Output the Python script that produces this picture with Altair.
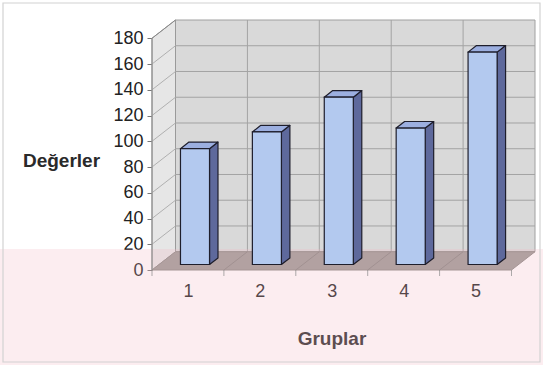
import altair as alt
import pandas as pd

categories = [1, 2, 3, 4, 5]
values = [90, 103, 130, 106, 165]
y_ticks = [0, 20, 40, 60, 80, 100, 120, 140, 160, 180]
x_title = "Gruplar"
y_title = "Değerler"

FONT = "Liberation Sans"
YMAX = y_ticks[-1]
DX, DY = 0.327, 14.2          # depth of the 3D box (category units, value units)
HW, F0, F1 = 0.202, 0.30, 0.66  # bar half width, bar front/back depth fractions
X0, X1 = categories[0] - 0.5, categories[-1] + 0.5
bounds = [X0 + k for k in range(len(categories) + 1)]

xscale = alt.Scale(domain=[X0, X1 + DX], nice=False, zero=False)
yscale = alt.Scale(domain=[0, YMAX + DY], nice=False, zero=False)
xaxis = alt.Axis(values=categories, ticks=False, domain=False, grid=False,
                 labelFontSize=18, labelFont=FONT, labelColor="#222222", labelPadding=12,
                 title=x_title, titleFont=FONT, titleFontSize=19, titleFontWeight="bold",
                 titleColor="#2a2a2a", titleX=179.5, titleY=68, titleBaseline="middle",
                 titleAlign="center", format="d")
yaxis = alt.Axis(values=y_ticks, ticks=True, tickSize=5, tickColor="#777777", domain=False,
                 grid=False, labelFontSize=18, labelFont=FONT, labelColor="#222222",
                 labelPadding=4, title=y_title, titleFont=FONT, titleFontSize=19,
                 titleFontWeight="bold", titleColor="#2a2a2a", titleAngle=0,
                 titleX=-91, titleY=140, titleAlign="center", titleBaseline="middle")


def X(f):
    return alt.X(f, type="quantitative", scale=xscale, axis=xaxis)


def Y(f):
    return alt.Y(f, type="quantitative", scale=yscale, axis=yaxis)


# back wall
back = pd.DataFrame([{"x": X0 + DX, "x2": X1 + DX, "y": DY, "y2": YMAX + DY}])
back_l = alt.Chart(back).mark_rect(fill="#d9d9d9", stroke="#a0a0a0", strokeWidth=1).encode(
    x=X("x"), x2="x2", y=Y("y"), y2="y2")

grid_rows = []
for t in y_ticks[1:-1]:
    grid_rows.append({"x": X0 + DX, "x2": X1 + DX, "y": t + DY, "y2": t + DY})
for b in bounds[1:-1]:
    grid_rows.append({"x": b + DX, "x2": b + DX, "y": DY, "y2": YMAX + DY})
back_grid = alt.Chart(pd.DataFrame(grid_rows)).mark_rule(color="#a3a3a3", strokeWidth=1).encode(
    x=X("x"), x2="x2", y=Y("y"), y2="y2")

# left side wall
side = pd.DataFrame([{"x": X0, "y": 0, "y2": YMAX}, {"x": X0 + DX, "y": DY, "y2": YMAX + DY}])
side_l = alt.Chart(side).mark_area(fill="#e6e6e6", stroke="#9a9a9a", strokeWidth=1).encode(
    x=X("x"), y=Y("y"), y2="y2")
side_grid = alt.Chart(pd.DataFrame(
    [{"x": X0, "x2": X0 + DX, "y": t, "y2": t + DY} for t in y_ticks[1:-1]]
)).mark_rule(color="#b0b0b0", strokeWidth=1).encode(x=X("x"), x2="x2", y=Y("y"), y2="y2")

# floor
floor = pd.DataFrame([{"y": 0, "x": X0, "x2": X1}, {"y": DY, "x": X0 + DX, "x2": X1 + DX}])
floor_l = alt.Chart(floor).mark_area(orient="horizontal", fill="#9c9a96", stroke="#8c8a86",
                                     strokeWidth=1).encode(y=Y("y"), x=X("x"), x2="x2")
floor_grid = alt.Chart(pd.DataFrame(
    [{"x": b, "x2": b + DX, "y": 0, "y2": DY} for b in bounds[1:-1]]
)).mark_rule(color="#868480", strokeWidth=1).encode(x=X("x"), x2="x2", y=Y("y"), y2="y2")

# bars
front_rows, side_rows, top_rows = [], [], []
for c, v in zip(categories, values):
    front_rows.append({"bar": c, "x": c - HW + F0 * DX, "x2": c + HW + F0 * DX,
                       "y": F0 * DY, "y2": v + F0 * DY})
    side_rows.append({"bar": c, "x": c + HW + F0 * DX, "y": F0 * DY, "y2": v + F0 * DY})
    side_rows.append({"bar": c, "x": c + HW + F1 * DX, "y": F1 * DY, "y2": v + F1 * DY})
    top_rows.append({"bar": c, "y": v + F0 * DY, "x": c - HW + F0 * DX, "x2": c + HW + F0 * DX})
    top_rows.append({"bar": c, "y": v + F1 * DY, "x": c - HW + F1 * DX, "x2": c + HW + F1 * DX})

OUT = "#1e1e2c"
bar_side = alt.Chart(pd.DataFrame(side_rows)).mark_area(
    fill="#5e699c", stroke=OUT, strokeWidth=1.2, strokeJoin="round").encode(
    x=X("x"), y=Y("y"), y2="y2", detail="bar:N")
bar_top = alt.Chart(pd.DataFrame(top_rows)).mark_area(
    orient="horizontal", fill="#9cafe0", stroke=OUT, strokeWidth=1.2, strokeJoin="round").encode(
    y=Y("y"), x=X("x"), x2="x2", detail="bar:N")
bar_front = alt.Chart(pd.DataFrame(front_rows)).mark_rect(
    fill="#b3c9ef", stroke=OUT, strokeWidth=1.2).encode(
    x=X("x"), x2="x2", y=Y("y"), y2="y2")

# front axis line and x ticks
axis_line = alt.Chart(pd.DataFrame([{"x": X0, "x2": X0, "y": 0, "y2": YMAX},
                                    {"x": X0, "x2": X0 + DX, "y": YMAX, "y2": YMAX + DY}])
                      ).mark_rule(color="#8a8a8a", strokeWidth=1).encode(
    x=X("x"), x2="x2", y=Y("y"), y2="y2")
xticks = alt.Chart(pd.DataFrame({"x": bounds, "y": [0] * len(bounds)})).mark_tick(
    orient="vertical", size=6, yOffset=3, color="#8a8a8a", thickness=1).encode(
    x=X("x"), y=Y("y"))

# watermark tint and outer frame (decoration)
deco = pd.DataFrame([{"k": 0}])
tint = alt.Chart(deco).mark_rect(fill="#f4b8c3", opacity=0.25).encode(
    x=alt.value(-152), x2=alt.value(391), y=alt.value(229), y2=alt.value(345))
frame = alt.Chart(deco).mark_rect(fill=None, stroke="#d2d2d2", strokeWidth=1.2).encode(
    x=alt.value(-149), x2=alt.value(388), y=alt.value(-17), y2=alt.value(342))

chart = alt.layer(
    back_l, back_grid, side_l, side_grid, floor_l, floor_grid, tint,
    bar_side, bar_top, bar_front, axis_line, xticks, frame
).properties(
    width=383, height=250,
    autosize=alt.AutoSizeParams(type="none"),
    padding={"left": 152, "top": 20, "right": 8, "bottom": 95},
    background="white",
).configure_view(stroke=None)

chart.save("out.html", embed_options={"renderer": "svg", "actions": False})
